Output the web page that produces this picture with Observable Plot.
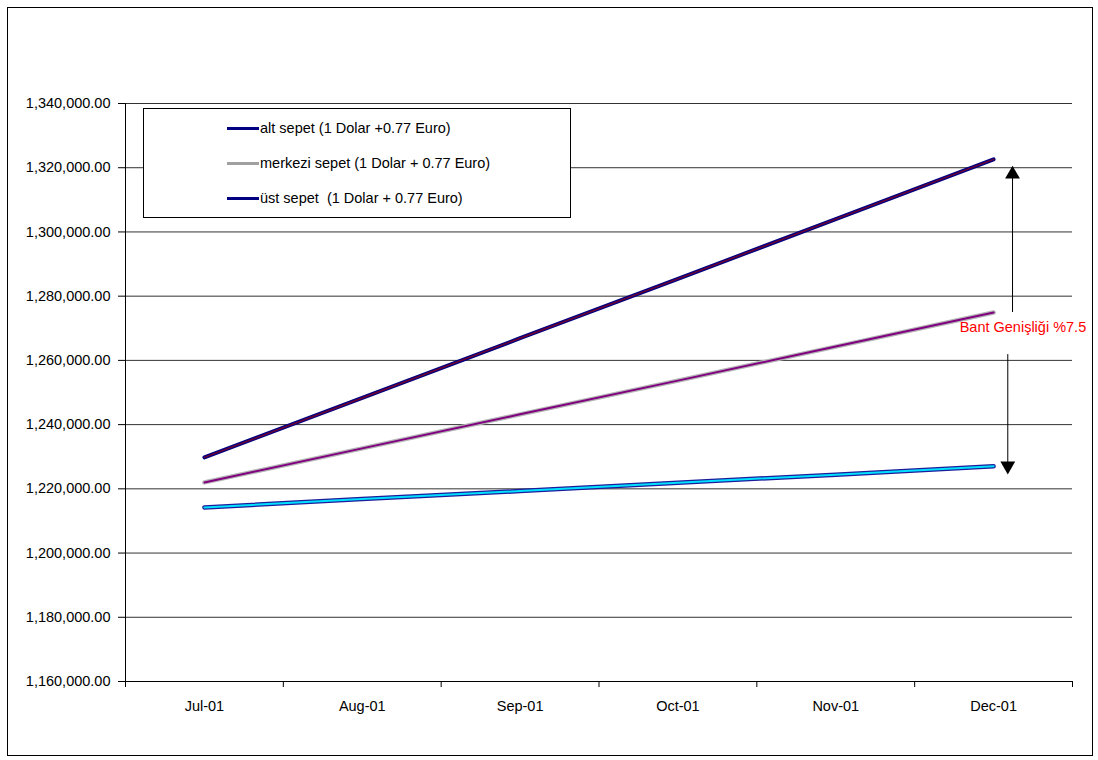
<!DOCTYPE html>
<html>
<head>
<meta charset="utf-8">
<script src="https://cdn.jsdelivr.net/npm/d3@7"></script>
<script src="https://cdn.jsdelivr.net/npm/@observablehq/plot@0.6"></script>
<style>
  html, body { margin: 0; padding: 0; background: #fff; }
  #wrap { position: relative; width: 1098px; height: 760px; font-family: "Liberation Sans", Arial, sans-serif; }
  #frame { position: absolute; left: 7px; top: 7px; width: 1084px; height: 747px; border: 1px solid #000; pointer-events: none; }
  #legend { position: absolute; left: 143px; top: 108px; width: 426px; height: 108px; border: 1px solid #000; background: #fff; }
  .row { position: absolute; left: 83px; height: 16px; display: flex; align-items: center; font-size: 14.5px; color: #000; white-space: pre; }
  .swatch { display: inline-block; width: 32px; height: 3px; margin-right: 1px; }
  #chart { position: absolute; left: 0; top: 0; }
</style>
</head>
<body>
<div id="wrap">
  <div id="chart"></div>
  <div id="legend"></div>
  <div id="frame"></div>
</div>
<script>
// Monthly categories
const months = ["Jul-01", "Aug-01", "Sep-01", "Oct-01", "Nov-01", "Dec-01"];

// Basket values (1 Dolar + 0.77 Euro)
const ustSepet     = [1229800, 1248300, 1266900, 1285400, 1304000, 1322600];
const merkeziSepet = [1222000, 1232600, 1243200, 1253700, 1264300, 1274900];
const altSepet     = [1214200, 1216800, 1219300, 1221900, 1224400, 1227000];

// Legend entries
const legendLabels = [
  "alt sepet (1 Dolar +0.77 Euro)",
  "merkezi sepet (1 Dolar + 0.77 Euro)",
  "üst sepet  (1 Dolar + 0.77 Euro)"
];
const legendColors = ["#000080", "#a0a0a0", "#000080"];

// Y axis ticks
const yTicks = d3.range(1160000, 1340001, 20000);

// Band annotation
const bandLabel = "Bant Genişliği %7.5";

const toRows = (vals) => vals.map((v, i) => ({i, v}));
const upperRows = toRows(ustSepet), centerRows = toRows(merkeziSepet), lowerRows = toRows(altSepet);

// Arrows showing the band on both sides of the central basket at Dec-01
const upArrow = [{x: 5.12, y1: merkeziSepet[5], y2: 1319500}];
const downArrow = [{x: 5.09, y1: 1261800, y2: 1225600}];

const chart = Plot.plot({
  width: 1098,
  height: 760,
  marginLeft: 125,
  marginRight: 26,
  marginTop: 103,
  marginBottom: 79,
  style: {fontFamily: "'Liberation Sans', Arial, sans-serif", fontSize: "14.5px", background: "transparent", overflow: "visible", color: "#000"},
  x: {domain: [-0.5, 5.5]},
  y: {domain: [1160000, 1340000]},
  marks: [
    Plot.ruleY(yTicks, {stroke: "#333", strokeWidth: 1}),
    Plot.ruleX([-0.5], {y1: 1160000, y2: 1340000, stroke: "#000"}),
    Plot.ruleY([1160000], {stroke: "#000"}),
    Plot.axisY({ticks: yTicks, tickFormat: d3.format(",.2f"), tickSize: 7, tickPadding: 8, label: null, fontSize: 14.5}),
    Plot.axisX({ticks: d3.range(-0.5, 5.6, 1), tickFormat: () => "", tickSize: 6, label: null}),
    Plot.axisX({ticks: d3.range(0, 6), tickFormat: i => months[i], tickSize: 0, tickPadding: 19, label: null, fontSize: 14.5}),
    // alt sepet
    Plot.line(lowerRows, {x: "i", y: "v", stroke: "#1c1c9c", strokeWidth: 4.5}),
    Plot.line(lowerRows, {x: "i", y: "v", stroke: "#00e0ff", strokeWidth: 2}),
    // merkezi sepet
    Plot.line(centerRows, {x: "i", y: "v", stroke: "#b4b4b4", strokeWidth: 4.5}),
    Plot.line(centerRows, {x: "i", y: "v", stroke: "#800080", strokeWidth: 2}),
    // üst sepet
    Plot.line(upperRows, {x: "i", y: "v", stroke: "#000080", strokeWidth: 4}),
    Plot.line(upperRows, {x: "i", y: "v", stroke: "#700030", strokeWidth: 1.5}),
    // band arrows
    Plot.ruleX(upArrow, {x: "x", y1: "y1", y2: "y2", stroke: "#000", strokeWidth: 1}),
    Plot.dot(upArrow, {x: "x", y: "y2", symbol: "triangle", r: 5.5, fill: "#000", stroke: null, dy: 5}),
    Plot.ruleX(downArrow, {x: "x", y1: "y1", y2: "y2", stroke: "#000", strokeWidth: 1}),
    Plot.dot(downArrow, {x: "x", y: "y2", symbol: "triangle", r: 5.5, fill: "#000", stroke: null, rotate: 180, dy: -5}),
    Plot.text([bandLabel], {x: 4.785, y: 1270200, text: d => d, fill: "#ff0000", fontSize: 14.5, textAnchor: "start", lineAnchor: "middle"})
  ]
});
document.getElementById("chart").appendChild(chart);

const legend = document.getElementById("legend");
const rowTops = [11, 46, 81];
legendLabels.forEach((label, k) => {
  const row = document.createElement("div");
  row.className = "row";
  row.style.top = rowTops[k] + "px";
  const sw = document.createElement("span");
  sw.className = "swatch";
  sw.style.background = legendColors[k];
  row.appendChild(sw);
  row.appendChild(document.createTextNode(label));
  legend.appendChild(row);
});
</script>
</body>
</html>
